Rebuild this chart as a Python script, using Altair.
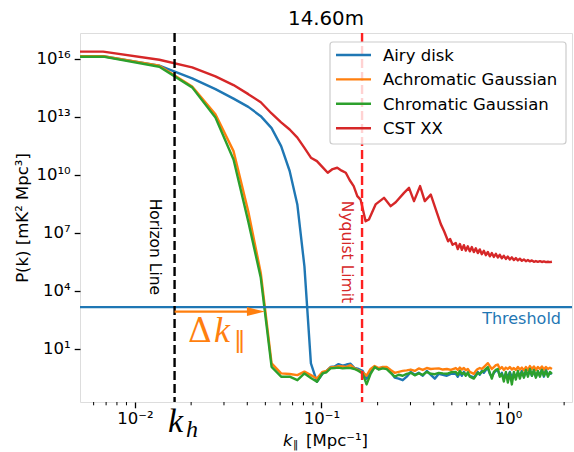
import altair as alt
import pandas as pd

# ---------------------------------------------------------------------------
# k_parallel sampling [Mpc^-1]
# ---------------------------------------------------------------------------
# low-k bins (first entry is the k=0 bin, pinned just outside the axis edge)
K_LOW = [0.004, 0.00675, 0.0135, 0.02025, 0.027, 0.03375, 0.0405, 0.04725,
         0.054, 0.06075, 0.0675, 0.07425, 0.081, 0.08775, 0.0945, 0.10125]
K_MID = [0.1064, 0.1118, 0.1174, 0.1234, 0.1297, 0.1362, 0.1432, 0.1504,
         0.1581, 0.1661, 0.1745, 0.1834, 0.1927, 0.2025, 0.2128, 0.2236,
         0.2349, 0.2469, 0.2594, 0.2726, 0.2864, 0.3010, 0.3163, 0.3323,
         0.3492, 0.3669, 0.3855, 0.4051, 0.4257, 0.4473, 0.4700, 0.4939]
K_HIGH = [0.525, 0.538, 0.552, 0.566, 0.580, 0.594, 0.609, 0.624, 0.640, 0.656,
          0.672, 0.689, 0.706, 0.724, 0.742, 0.761, 0.780, 0.799, 0.819, 0.840,
          0.861, 0.882, 0.904, 0.927, 0.950, 0.974, 0.998, 1.023, 1.049, 1.075,
          1.102, 1.130, 1.158, 1.187, 1.217, 1.247, 1.279, 1.311, 1.343, 1.377,
          1.411, 1.447, 1.483, 1.520, 1.558, 1.597, 1.637, 1.678, 1.720]
K_CST = [0.004, 0.00675, 0.0135, 0.02025, 0.027, 0.03375, 0.0405, 0.04725,
         0.054, 0.06075, 0.0675, 0.07425, 0.081, 0.08775, 0.0945, 0.10125,
         0.108, 0.11475, 0.1215, 0.12825, 0.135, 0.14175, 0.1488, 0.1556,
         0.162, 0.1724, 0.1796, 0.195, 0.2163, 0.235, 0.250, 0.277, 0.2946,
         0.3133, 0.3377, 0.358, 0.3855, 0.410, 0.4363, 0.4545, 0.4775, 0.4895,
         0.5043]

# ---------------------------------------------------------------------------
# log10 P(k) [mK^2 Mpc^3]
# ---------------------------------------------------------------------------
AIRY_LOW = [16.14, 16.14, 15.66, 15.00, 14.44, 13.95, 13.52, 13.04, 12.42,
            11.49, 10.20, 8.45, 5.26, 0.24, -0.71, -0.30]
AIRY_MID = [-0.15, 0.05, 0.08, 0.20, 0.12, 0.18, 0.22, 0.00, -0.05, -0.15,
            -0.55, -0.15, 0.05, -0.05, 0.05, 0.00, -0.20, -0.50, -0.55, -0.63,
            -0.45, -0.20, -0.35, -0.25, -0.40, -0.15, -0.35, -0.55, -0.30,
            -0.35, -0.40, -0.30]
AIRY_HIGH = [-0.30, -0.45, -0.25, -0.40, -0.20, -0.35, -0.30, -0.40, -0.45,
             -0.50, -0.35, -0.20, -0.35, -0.15, -0.25, -0.10, 0.00, -0.30,
             -0.45, -0.25, -0.15, -0.10, -0.40, -0.25, -0.55, -0.30, -0.45,
             -0.20, -0.50, -0.30, -0.45, -0.25, -0.40, -0.15, -0.45, -0.20,
             -0.35, -0.10, -0.40, -0.15, -0.45, -0.20, -0.40, -0.05, -0.45,
             -0.10, -0.35, -0.30, -0.25]

ACHRO_LOW = [16.15, 16.15, 15.65, 14.58, 13.14, 11.23, 8.10, 4.92, 0.24,
             -0.28, -0.31, -0.37, -0.19, -0.37, -0.54, -0.20]
ACHRO_MID = [-0.15, 0.03, 0.05, 0.10, 0.08, 0.06, 0.15, -0.02, -0.12, -0.22,
             -0.40, -0.05, 0.10, 0.00, 0.05, 0.06, -0.10, -0.25, -0.20, -0.15,
             -0.12, -0.08, -0.15, -0.02, -0.10, 0.00, -0.05, -0.03, -0.02,
             -0.08, -0.05, -0.10]
ACHRO_HIGH = [0.00, -0.10, 0.02, -0.08, 0.00, -0.12, -0.05, -0.20, -0.25,
              -0.30, -0.15, -0.05, 0.00, -0.05, 0.05, 0.15, 0.25, 0.10, -0.05,
              0.05, 0.15, 0.18, -0.05, 0.05, -0.10, 0.02, -0.05, 0.05, -0.08,
              0.00, -0.10, 0.05, -0.08, 0.02, -0.12, 0.05, -0.10, 0.10, -0.05,
              0.08, -0.10, 0.05, -0.05, 0.08, -0.08, 0.05, -0.05, 0.02, -0.05]

CHRO_LOW = [16.12, 16.12, 15.60, 14.53, 12.97, 10.80, 7.58, 4.67, 0.06,
            -0.45, -0.45, -0.63, -0.28, -0.52, -0.71, -0.28]
CHRO_MID = [-0.22, -0.02, 0.00, 0.02, -0.02, 0.00, 0.00, -0.05, -0.15, -0.28,
            -0.85, -0.30, 0.05, -0.08, -0.02, -0.06, -0.25, -0.45, -0.35,
            -0.40, -0.30, -0.25, -0.38, -0.28, -0.35, -0.20, -0.30, -0.32,
            -0.25, -0.28, -0.30, -0.22]
CHRO_HIGH = [-0.20, -0.35, -0.15, -0.30, -0.25, -0.40, -0.22, -0.45, -0.50,
             -0.55, -0.40, -0.25, -0.30, -0.20, -0.15, -0.05, 0.05, -0.25,
             -0.55, -0.20, -0.10, -0.05, -0.45, -0.30, -0.70, -0.20, -0.75,
             -0.25, -0.85, -0.20, -0.60, -0.15, -0.55, -0.20, -0.50, -0.10,
             -0.45, -0.05, -0.40, -0.10, -0.50, -0.15, -0.45, -0.10, -0.40,
             -0.15, -0.45, -0.20, -0.30]

CST_LOW = [16.38, 16.38, 15.96, 15.57, 15.10, 14.65, 14.18, 13.76, 13.18,
           12.72, 12.35, 11.93, 11.40, 10.89, 10.71, 10.40, 10.11, 10.30,
           10.37, 10.22, 10.11, 9.72, 9.42, 8.90, 8.72, 7.60, 7.69, 8.47, 8.81,
           8.38, 8.58, 9.07, 9.33, 8.64, 9.42, 8.64, 8.98, 8.21, 7.45, 7.08,
           6.56, 6.68, 6.38]
CST_HIGH = [6.47, 6.16, 6.42, 6.12, 6.36, 6.08, 6.30, 6.04, 6.26, 6.00,
            6.20, 5.95, 6.14, 5.89, 6.07, 5.84, 6.01, 5.78, 5.95, 5.75,
            5.91, 5.72, 5.86, 5.68, 5.81, 5.65, 5.77, 5.62, 5.73, 5.59,
            5.69, 5.57, 5.66, 5.55, 5.62, 5.53, 5.59, 5.52, 5.57, 5.50,
            5.54, 5.50, 5.53, 5.49, 5.52, 5.48, 5.50, 5.48, 5.50]

SERIES = ["Airy disk", "Achromatic Gaussian", "Chromatic Gaussian", "CST XX"]
COLORS = ["#1f77b4", "#ff7f0e", "#2ca02c", "#d62728"]

HORIZON_K = 0.0163
NYQUIST_K = 0.165
THRESHOLD = 10 ** 3.15
ARROW_P = 10 ** 2.92
ARROW_HEAD_K = 0.0445

X_TICKS = [0.01, 0.1, 1.0]
X_TICK_TEXT = ["10⁻²", "10⁻¹", "10⁰"]
Y_TICKS = [1e1, 1e4, 1e7, 1e10, 1e13, 1e16]
Y_TICK_TEXT = ["10¹", "10⁴", "10⁷", "10¹⁰", "10¹³", "10¹⁶"]
X_MINOR = [0.006, 0.007, 0.008, 0.009, 0.02, 0.03, 0.04, 0.05, 0.06, 0.07,
           0.08, 0.09, 0.2, 0.3, 0.4, 0.5, 0.6, 0.7, 0.8, 0.9, 2.0]

FONT = "DejaVu Sans"
W, H = 492, 369


def label_expr(values, texts):
    expr = f"'{texts[-1]}'"
    for v, t in reversed(list(zip(values[:-1], texts[:-1]))):
        expr = f"datum.value < {v * 3:g} ? '{t}' : ({expr})"
    return expr


X_SCALE = alt.Scale(type="log", domain=[0.005071, 2.204], nice=False)
Y_SCALE = alt.Scale(type="log", domain=[10 ** -1.76, 10 ** 17.346], nice=False)

X_AXIS = alt.Axis(values=X_TICKS, labelExpr=label_expr(X_TICKS, X_TICK_TEXT),
                  title=None, grid=False, domain=False, tickSize=5.8,
                  tickWidth=1.3, tickColor="black", labelFont=FONT,
                  labelFontSize=16.5, labelColor="black", labelPadding=3,
                  labelFlush=False, labelOverlap=False)
Y_AXIS = alt.Axis(values=Y_TICKS, labelExpr=label_expr(Y_TICKS, Y_TICK_TEXT),
                  title="P(k) [mK² Mpc³]", titleFont=FONT, titleFontSize=16.5,
                  titleFontWeight="normal", titleColor="black", titleAngle=270,
                  titleX=-53, titleY=H / 2, titleAlign="center",
                  titleBaseline="alphabetic", grid=False, domain=False,
                  tickSize=5.8, tickWidth=1.3, tickColor="black",
                  labelFont=FONT, labelFontSize=16.5, labelColor="black",
                  labelPadding=4, labelFlush=False, labelOverlap=False)

COLOR_SCALE = alt.Scale(domain=SERIES, range=COLORS)


def xenc(field="k"):
    return alt.X(f"{field}:Q", scale=X_SCALE, axis=X_AXIS)


def yenc(field="P"):
    return alt.Y(f"{field}:Q", scale=Y_SCALE, axis=Y_AXIS)


def spectrum(name, ks, exps):
    df = pd.DataFrame({"k": ks, "e": exps})
    df["P"] = 10.0 ** df["e"]
    df["series"] = name
    return alt.Chart(df).mark_line(strokeWidth=2.4, clip=True, strokeJoin="round").encode(
        x=xenc(), y=yenc(),
        color=alt.Color("series:N", scale=COLOR_SCALE, legend=None),
        order="k:Q",
    )


airy = spectrum(SERIES[0], K_LOW + K_MID + K_HIGH, AIRY_LOW + AIRY_MID + AIRY_HIGH)
achro = spectrum(SERIES[1], K_LOW + K_MID + K_HIGH, ACHRO_LOW + ACHRO_MID + ACHRO_HIGH)
chro = spectrum(SERIES[2], K_LOW + K_MID + K_HIGH, CHRO_LOW + CHRO_MID + CHRO_HIGH)
cst = spectrum(SERIES[3], K_CST + K_HIGH, CST_LOW + CST_HIGH)

threshold = alt.Chart(pd.DataFrame({"P": [THRESHOLD]})).mark_rule(
    color="#1f77b4", strokeWidth=2.2).encode(y=yenc())

horizon = alt.Chart(pd.DataFrame({"k": [HORIZON_K]})).mark_rule(
    color="black", strokeWidth=2.4, strokeDash=[9, 4]).encode(x=xenc())
nyquist = alt.Chart(pd.DataFrame({"k": [NYQUIST_K]})).mark_rule(
    color="#ff2020", strokeWidth=2.4, strokeDash=[9, 4]).encode(x=xenc())

minor_ticks = alt.Chart(pd.DataFrame({"k": X_MINOR})).mark_rule(
    color="black", strokeWidth=1.0, clip=False).encode(
    x=xenc(), y=alt.value(H), y2=alt.value(H + 3.3))

arrow_shaft = alt.Chart(pd.DataFrame({"k": [HORIZON_K], "k2": [ARROW_HEAD_K],
                                      "P": [ARROW_P]})).mark_rule(
    color="#ff7f0e", strokeWidth=2.4).encode(x=xenc(), x2="k2:Q", y=yenc())
arrow_head = alt.Chart(pd.DataFrame({"k": [ARROW_HEAD_K], "P": [ARROW_P]})).mark_point(
    shape="M-1,-0.5L1,0L-1,0.5Z", filled=True, size=324, opacity=1,
    color="#ff7f0e", strokeWidth=0).encode(x=xenc(), y=yenc())


def note(k, p, text, **kw):
    df = pd.DataFrame({"k": [k], "P": [p], "t": [text]})
    return alt.Chart(df).mark_text(**kw).encode(x=xenc(), y=yenc(), text="t:N")


horizon_text = note(0.0128, 10 ** 6.27, "Horizon Line", angle=90, font=FONT,
                    fontSize=15.5, color="black", align="center", baseline="middle")
nyquist_text = note(0.1370, 10 ** 6.01, "Nyquist Limit", angle=90, font=FONT,
                    fontSize=15.5, color="#d62728", align="center", baseline="middle")
threshold_text = note(1.924, 10 ** 2.54, "Threshold", font=FONT, fontSize=16,
                      color="#1f77b4", align="right", baseline="middle")

delta = note(0.01924, 10 ** 1.347, "Δ", font="DejaVu Serif", fontSize=33,
             color="#ff7f0e", align="left", baseline="alphabetic")
delta_k = note(0.02652, 10 ** 1.347, "k", font="Liberation Serif", fontSize=36,
               fontStyle="italic", color="#ff7f0e", align="left", baseline="alphabetic")
delta_par = note(0.03395, 10 ** 1.057, "‖", font=FONT, fontSize=23,
                 color="#ff7f0e", align="left", baseline="alphabetic")


def below(k, ypix, text, **kw):
    df = pd.DataFrame({"k": [k], "t": [text]})
    return alt.Chart(df).mark_text(**kw).encode(x=xenc(), y=alt.value(ypix), text="t:N")


kh_k = below(0.01503, 399, "k", font="Liberation Serif", fontSize=34,
             fontStyle="italic", color="black", align="left", baseline="alphabetic")
kh_h = below(0.01877, 404, "h", font="Liberation Serif", fontSize=24,
             fontStyle="italic", color="black", align="left", baseline="alphabetic")


def pixel_text(xpix, ypix, text, **kw):
    df = pd.DataFrame({"t": [text]})
    return alt.Chart(df).mark_text(**kw).encode(
        x=alt.value(xpix), y=alt.value(ypix), text="t:N")


title_text = pixel_text(W / 2, -8, "14.60m", font=FONT, fontSize=19.8,
                        color="black", align="center", baseline="alphabetic")
xt_k = pixel_text(203, 413, "k", font=FONT, fontSize=16.5, fontStyle="italic",
                  color="black", align="left", baseline="alphabetic")
xt_par = pixel_text(213, 415, "‖", font=FONT, fontSize=10.5, color="black",
                    align="left", baseline="alphabetic")
xt_unit = pixel_text(226, 413, "[Mpc⁻¹]", font=FONT, fontSize=16.5,
                     color="black", align="left", baseline="alphabetic")

# legend box with one stroke sample and label per series
LEG_X0, LEG_Y0, LEG_W, LEG_H = 250, 9, 236, 102
LEG_ROW0, LEG_ROW_STEP = 22, 24.4
legend_box = alt.Chart(pd.DataFrame({"t": [0]})).mark_rect(
    fill="white", fillOpacity=0.8, stroke="#cccccc", strokeWidth=1.2,
    cornerRadius=3).encode(
    x=alt.value(LEG_X0), x2=alt.value(LEG_X0 + LEG_W),
    y=alt.value(LEG_Y0), y2=alt.value(LEG_Y0 + LEG_H))
legend_items = []
for i, (name, col) in enumerate(zip(SERIES, COLORS)):
    yy = LEG_ROW0 + i * LEG_ROW_STEP
    legend_items.append(
        alt.Chart(pd.DataFrame({"t": [name]})).mark_rule(
            color=col, strokeWidth=2.4).encode(
            x=alt.value(256), x2=alt.value(291), y=alt.value(yy)))
    legend_items.append(
        pixel_text(303, yy + 6, name, font=FONT, fontSize=16.5, color="black",
                   align="left", baseline="alphabetic"))

chart = alt.layer(
    airy, achro, chro, cst,
    threshold, horizon, nyquist, minor_ticks,
    arrow_shaft, arrow_head,
    horizon_text, nyquist_text, threshold_text,
    delta, delta_k, delta_par, kh_k, kh_h,
    title_text, xt_k, xt_par, xt_unit,
    legend_box, *legend_items,
).properties(
    width=W, height=H,
    autosize=alt.AutoSizeParams(type="none"),
    padding={"left": 80, "top": 33, "right": 2, "bottom": 50},
).configure_view(
    stroke="black", strokeWidth=1.3
).configure(background="white")

chart.save("out.html", embed_options={"renderer": "svg", "actions": False})
